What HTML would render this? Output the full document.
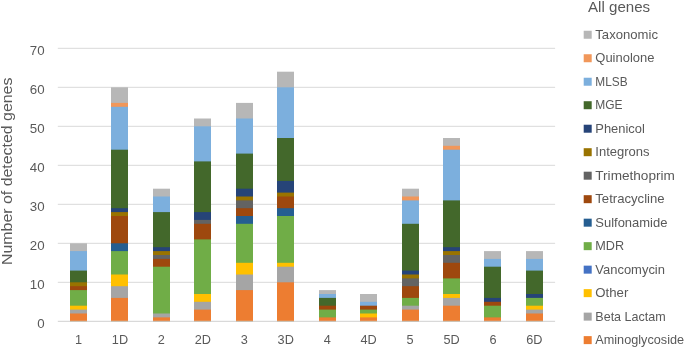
<!DOCTYPE html>
<html><head><meta charset="utf-8"><style>
html,body{margin:0;padding:0;background:#fff;width:685px;height:347px;overflow:hidden}
svg{display:block}
text{font-family:"Liberation Sans",Arial,sans-serif;fill:#595959}
.t{font-size:12.7px}
.yt{font-size:13.3px}
.at{font-size:15.1px}
.lt{font-size:15.1px}
.lg{font-size:13px}
</style></head><body>
<svg width="685" height="347" viewBox="0 0 685 347">
<rect x="57.80" y="281.80" width="497.30" height="1" fill="#D9D9D9"/>
<rect x="57.80" y="242.80" width="497.30" height="1" fill="#D9D9D9"/>
<rect x="57.80" y="203.80" width="497.30" height="1" fill="#D9D9D9"/>
<rect x="57.80" y="164.80" width="497.30" height="1" fill="#D9D9D9"/>
<rect x="57.80" y="125.80" width="497.30" height="1" fill="#D9D9D9"/>
<rect x="57.80" y="86.80" width="497.30" height="1" fill="#D9D9D9"/>
<rect x="57.80" y="47.80" width="497.30" height="1" fill="#D9D9D9"/>
<rect x="70.00" y="243.30" width="17.00" height="78.00" fill="#B7B7B7"/>
<rect x="70.00" y="251.10" width="17.00" height="70.20" fill="#7CAFDD"/>
<rect x="70.00" y="270.60" width="17.00" height="50.70" fill="#43682B"/>
<rect x="70.00" y="282.30" width="17.00" height="39.00" fill="#997300"/>
<rect x="70.00" y="286.20" width="17.00" height="35.10" fill="#9E480E"/>
<rect x="70.00" y="290.10" width="17.00" height="31.20" fill="#70AD47"/>
<rect x="70.00" y="305.70" width="17.00" height="15.60" fill="#FFC000"/>
<rect x="70.00" y="309.60" width="17.00" height="11.70" fill="#A5A5A5"/>
<rect x="70.00" y="313.50" width="17.00" height="7.80" fill="#ED7D31"/>
<rect x="111.00" y="87.30" width="17.00" height="234.00" fill="#B7B7B7"/>
<rect x="111.00" y="102.90" width="17.00" height="218.40" fill="#F1975A"/>
<rect x="111.00" y="106.80" width="17.00" height="214.50" fill="#7CAFDD"/>
<rect x="111.00" y="149.70" width="17.00" height="171.60" fill="#43682B"/>
<rect x="111.00" y="208.20" width="17.00" height="113.10" fill="#264478"/>
<rect x="111.00" y="212.10" width="17.00" height="109.20" fill="#997300"/>
<rect x="111.00" y="216.00" width="17.00" height="105.30" fill="#9E480E"/>
<rect x="111.00" y="243.30" width="17.00" height="78.00" fill="#255E91"/>
<rect x="111.00" y="251.10" width="17.00" height="70.20" fill="#70AD47"/>
<rect x="111.00" y="274.50" width="17.00" height="46.80" fill="#FFC000"/>
<rect x="111.00" y="286.20" width="17.00" height="35.10" fill="#A5A5A5"/>
<rect x="111.00" y="297.90" width="17.00" height="23.40" fill="#ED7D31"/>
<rect x="153.00" y="188.70" width="17.00" height="132.60" fill="#B7B7B7"/>
<rect x="153.00" y="196.50" width="17.00" height="124.80" fill="#7CAFDD"/>
<rect x="153.00" y="212.10" width="17.00" height="109.20" fill="#43682B"/>
<rect x="153.00" y="247.20" width="17.00" height="74.10" fill="#264478"/>
<rect x="153.00" y="251.10" width="17.00" height="70.20" fill="#997300"/>
<rect x="153.00" y="255.00" width="17.00" height="66.30" fill="#636363"/>
<rect x="153.00" y="258.90" width="17.00" height="62.40" fill="#9E480E"/>
<rect x="153.00" y="266.70" width="17.00" height="54.60" fill="#70AD47"/>
<rect x="153.00" y="313.50" width="17.00" height="7.80" fill="#A5A5A5"/>
<rect x="153.00" y="317.40" width="17.00" height="3.90" fill="#ED7D31"/>
<rect x="194.00" y="118.50" width="17.00" height="202.80" fill="#B7B7B7"/>
<rect x="194.00" y="126.30" width="17.00" height="195.00" fill="#7CAFDD"/>
<rect x="194.00" y="161.40" width="17.00" height="159.90" fill="#43682B"/>
<rect x="194.00" y="212.10" width="17.00" height="109.20" fill="#264478"/>
<rect x="194.00" y="219.90" width="17.00" height="101.40" fill="#636363"/>
<rect x="194.00" y="223.80" width="17.00" height="97.50" fill="#9E480E"/>
<rect x="194.00" y="239.40" width="17.00" height="81.90" fill="#70AD47"/>
<rect x="194.00" y="294.00" width="17.00" height="27.30" fill="#FFC000"/>
<rect x="194.00" y="301.80" width="17.00" height="19.50" fill="#A5A5A5"/>
<rect x="194.00" y="309.60" width="17.00" height="11.70" fill="#ED7D31"/>
<rect x="236.00" y="102.90" width="17.00" height="218.40" fill="#B7B7B7"/>
<rect x="236.00" y="118.50" width="17.00" height="202.80" fill="#7CAFDD"/>
<rect x="236.00" y="153.60" width="17.00" height="167.70" fill="#43682B"/>
<rect x="236.00" y="188.70" width="17.00" height="132.60" fill="#264478"/>
<rect x="236.00" y="196.50" width="17.00" height="124.80" fill="#997300"/>
<rect x="236.00" y="200.40" width="17.00" height="120.90" fill="#636363"/>
<rect x="236.00" y="208.20" width="17.00" height="113.10" fill="#9E480E"/>
<rect x="236.00" y="216.00" width="17.00" height="105.30" fill="#255E91"/>
<rect x="236.00" y="223.80" width="17.00" height="97.50" fill="#70AD47"/>
<rect x="236.00" y="262.80" width="17.00" height="58.50" fill="#FFC000"/>
<rect x="236.00" y="274.50" width="17.00" height="46.80" fill="#A5A5A5"/>
<rect x="236.00" y="290.10" width="17.00" height="31.20" fill="#ED7D31"/>
<rect x="277.00" y="71.70" width="17.00" height="249.60" fill="#B7B7B7"/>
<rect x="277.00" y="87.30" width="17.00" height="234.00" fill="#7CAFDD"/>
<rect x="277.00" y="138.00" width="17.00" height="183.30" fill="#43682B"/>
<rect x="277.00" y="180.90" width="17.00" height="140.40" fill="#264478"/>
<rect x="277.00" y="192.60" width="17.00" height="128.70" fill="#997300"/>
<rect x="277.00" y="196.50" width="17.00" height="124.80" fill="#9E480E"/>
<rect x="277.00" y="208.20" width="17.00" height="113.10" fill="#255E91"/>
<rect x="277.00" y="216.00" width="17.00" height="105.30" fill="#70AD47"/>
<rect x="277.00" y="262.80" width="17.00" height="58.50" fill="#FFC000"/>
<rect x="277.00" y="266.70" width="17.00" height="54.60" fill="#A5A5A5"/>
<rect x="277.00" y="282.30" width="17.00" height="39.00" fill="#ED7D31"/>
<rect x="319.00" y="290.10" width="17.00" height="31.20" fill="#B7B7B7"/>
<rect x="319.00" y="294.00" width="17.00" height="27.30" fill="#7CAFDD"/>
<rect x="319.00" y="297.90" width="17.00" height="23.40" fill="#43682B"/>
<rect x="319.00" y="305.70" width="17.00" height="15.60" fill="#9E480E"/>
<rect x="319.00" y="309.60" width="17.00" height="11.70" fill="#70AD47"/>
<rect x="319.00" y="317.40" width="17.00" height="3.90" fill="#ED7D31"/>
<rect x="360.00" y="294.00" width="17.00" height="27.30" fill="#B7B7B7"/>
<rect x="360.00" y="301.80" width="17.00" height="19.50" fill="#7CAFDD"/>
<rect x="360.00" y="305.70" width="17.00" height="15.60" fill="#9E480E"/>
<rect x="360.00" y="309.60" width="17.00" height="11.70" fill="#70AD47"/>
<rect x="360.00" y="313.50" width="17.00" height="7.80" fill="#FFC000"/>
<rect x="360.00" y="317.40" width="17.00" height="3.90" fill="#ED7D31"/>
<rect x="402.00" y="188.70" width="17.00" height="132.60" fill="#B7B7B7"/>
<rect x="402.00" y="196.50" width="17.00" height="124.80" fill="#F1975A"/>
<rect x="402.00" y="200.40" width="17.00" height="120.90" fill="#7CAFDD"/>
<rect x="402.00" y="223.80" width="17.00" height="97.50" fill="#43682B"/>
<rect x="402.00" y="270.60" width="17.00" height="50.70" fill="#264478"/>
<rect x="402.00" y="274.50" width="17.00" height="46.80" fill="#997300"/>
<rect x="402.00" y="278.40" width="17.00" height="42.90" fill="#636363"/>
<rect x="402.00" y="286.20" width="17.00" height="35.10" fill="#9E480E"/>
<rect x="402.00" y="297.90" width="17.00" height="23.40" fill="#70AD47"/>
<rect x="402.00" y="305.70" width="17.00" height="15.60" fill="#A5A5A5"/>
<rect x="402.00" y="309.60" width="17.00" height="11.70" fill="#ED7D31"/>
<rect x="443.00" y="138.00" width="17.00" height="183.30" fill="#B7B7B7"/>
<rect x="443.00" y="145.80" width="17.00" height="175.50" fill="#F1975A"/>
<rect x="443.00" y="149.70" width="17.00" height="171.60" fill="#7CAFDD"/>
<rect x="443.00" y="200.40" width="17.00" height="120.90" fill="#43682B"/>
<rect x="443.00" y="247.20" width="17.00" height="74.10" fill="#264478"/>
<rect x="443.00" y="251.10" width="17.00" height="70.20" fill="#997300"/>
<rect x="443.00" y="255.00" width="17.00" height="66.30" fill="#636363"/>
<rect x="443.00" y="262.80" width="17.00" height="58.50" fill="#9E480E"/>
<rect x="443.00" y="278.40" width="17.00" height="42.90" fill="#70AD47"/>
<rect x="443.00" y="294.00" width="17.00" height="27.30" fill="#FFC000"/>
<rect x="443.00" y="297.90" width="17.00" height="23.40" fill="#A5A5A5"/>
<rect x="443.00" y="305.70" width="17.00" height="15.60" fill="#ED7D31"/>
<rect x="484.00" y="251.10" width="17.00" height="70.20" fill="#B7B7B7"/>
<rect x="484.00" y="258.90" width="17.00" height="62.40" fill="#7CAFDD"/>
<rect x="484.00" y="266.70" width="17.00" height="54.60" fill="#43682B"/>
<rect x="484.00" y="297.90" width="17.00" height="23.40" fill="#264478"/>
<rect x="484.00" y="301.80" width="17.00" height="19.50" fill="#9E480E"/>
<rect x="484.00" y="305.70" width="17.00" height="15.60" fill="#70AD47"/>
<rect x="484.00" y="317.40" width="17.00" height="3.90" fill="#ED7D31"/>
<rect x="526.00" y="251.10" width="17.00" height="70.20" fill="#B7B7B7"/>
<rect x="526.00" y="258.90" width="17.00" height="62.40" fill="#7CAFDD"/>
<rect x="526.00" y="270.60" width="17.00" height="50.70" fill="#43682B"/>
<rect x="526.00" y="294.00" width="17.00" height="27.30" fill="#264478"/>
<rect x="526.00" y="297.90" width="17.00" height="23.40" fill="#70AD47"/>
<rect x="526.00" y="305.70" width="17.00" height="15.60" fill="#FFC000"/>
<rect x="526.00" y="309.60" width="17.00" height="11.70" fill="#A5A5A5"/>
<rect x="526.00" y="313.50" width="17.00" height="7.80" fill="#ED7D31"/>
<rect x="57.80" y="320.80" width="497.30" height="1" fill="#D0D0D0"/>
<text x="44.6" y="328.30" text-anchor="end" class="yt">0</text>
<text x="44.6" y="289.30" text-anchor="end" class="yt">10</text>
<text x="44.6" y="250.30" text-anchor="end" class="yt">20</text>
<text x="44.6" y="211.30" text-anchor="end" class="yt">30</text>
<text x="44.6" y="172.30" text-anchor="end" class="yt">40</text>
<text x="44.6" y="133.30" text-anchor="end" class="yt">50</text>
<text x="44.6" y="94.30" text-anchor="end" class="yt">60</text>
<text x="44.6" y="55.30" text-anchor="end" class="yt">70</text>
<text x="78.52" y="344.2" text-anchor="middle" class="t">1</text>
<text x="119.96" y="344.2" text-anchor="middle" class="t">1D</text>
<text x="161.40" y="344.2" text-anchor="middle" class="t">2</text>
<text x="202.85" y="344.2" text-anchor="middle" class="t">2D</text>
<text x="244.29" y="344.2" text-anchor="middle" class="t">3</text>
<text x="285.73" y="344.2" text-anchor="middle" class="t">3D</text>
<text x="327.17" y="344.2" text-anchor="middle" class="t">4</text>
<text x="368.61" y="344.2" text-anchor="middle" class="t">4D</text>
<text x="410.05" y="344.2" text-anchor="middle" class="t">5</text>
<text x="451.50" y="344.2" text-anchor="middle" class="t">5D</text>
<text x="492.94" y="344.2" text-anchor="middle" class="t">6</text>
<text x="534.38" y="344.2" text-anchor="middle" class="t">6D</text>
<text transform="translate(12.3,171.3) rotate(-90)" text-anchor="middle" class="at" textLength="187.4" lengthAdjust="spacingAndGlyphs">Number of detected genes</text>
<text x="619.1" y="11.7" text-anchor="middle" class="lt">All genes</text>
<rect x="583.7" y="30.75" width="8" height="8" fill="#B7B7B7"/>
<text x="595.3" y="38.85" class="lg" textLength="62.66" lengthAdjust="spacingAndGlyphs">Taxonomic</text>
<rect x="583.7" y="54.24" width="8" height="8" fill="#F1975A"/>
<text x="595.3" y="62.34" class="lg" textLength="59.14" lengthAdjust="spacingAndGlyphs">Quinolone</text>
<rect x="583.7" y="77.73" width="8" height="8" fill="#7CAFDD"/>
<text x="595.3" y="85.83" class="lg" textLength="32.26" lengthAdjust="spacingAndGlyphs">MLSB</text>
<rect x="583.7" y="101.22" width="8" height="8" fill="#43682B"/>
<text x="595.3" y="109.32" class="lg" textLength="27.31" lengthAdjust="spacingAndGlyphs">MGE</text>
<rect x="583.7" y="124.71" width="8" height="8" fill="#264478"/>
<text x="595.3" y="132.81" class="lg" textLength="49.47" lengthAdjust="spacingAndGlyphs">Phenicol</text>
<rect x="583.7" y="148.20" width="8" height="8" fill="#997300"/>
<text x="595.3" y="156.30" class="lg" textLength="54.21" lengthAdjust="spacingAndGlyphs">Integrons</text>
<rect x="583.7" y="171.69" width="8" height="8" fill="#636363"/>
<text x="595.3" y="179.79" class="lg" textLength="79.57" lengthAdjust="spacingAndGlyphs">Trimethoprim</text>
<rect x="583.7" y="195.18" width="8" height="8" fill="#9E480E"/>
<text x="595.3" y="203.28" class="lg" textLength="69.30" lengthAdjust="spacingAndGlyphs">Tetracycline</text>
<rect x="583.7" y="218.67" width="8" height="8" fill="#255E91"/>
<text x="595.3" y="226.77" class="lg" textLength="72.13" lengthAdjust="spacingAndGlyphs">Sulfonamide</text>
<rect x="583.7" y="242.16" width="8" height="8" fill="#70AD47"/>
<text x="595.3" y="250.26" class="lg" textLength="28.81" lengthAdjust="spacingAndGlyphs">MDR</text>
<rect x="583.7" y="265.65" width="8" height="8" fill="#4472C4"/>
<text x="595.3" y="273.75" class="lg" textLength="69.67" lengthAdjust="spacingAndGlyphs">Vancomycin</text>
<rect x="583.7" y="289.14" width="8" height="8" fill="#FFC000"/>
<text x="595.3" y="297.24" class="lg" textLength="33.03" lengthAdjust="spacingAndGlyphs">Other</text>
<rect x="583.7" y="312.63" width="8" height="8" fill="#A5A5A5"/>
<text x="595.3" y="320.73" class="lg" textLength="70.43" lengthAdjust="spacingAndGlyphs">Beta Lactam</text>
<rect x="583.7" y="336.12" width="8" height="8" fill="#ED7D31"/>
<text x="595.3" y="344.22" class="lg" textLength="88.76" lengthAdjust="spacingAndGlyphs">Aminoglycoside</text>
</svg>
</body></html>
